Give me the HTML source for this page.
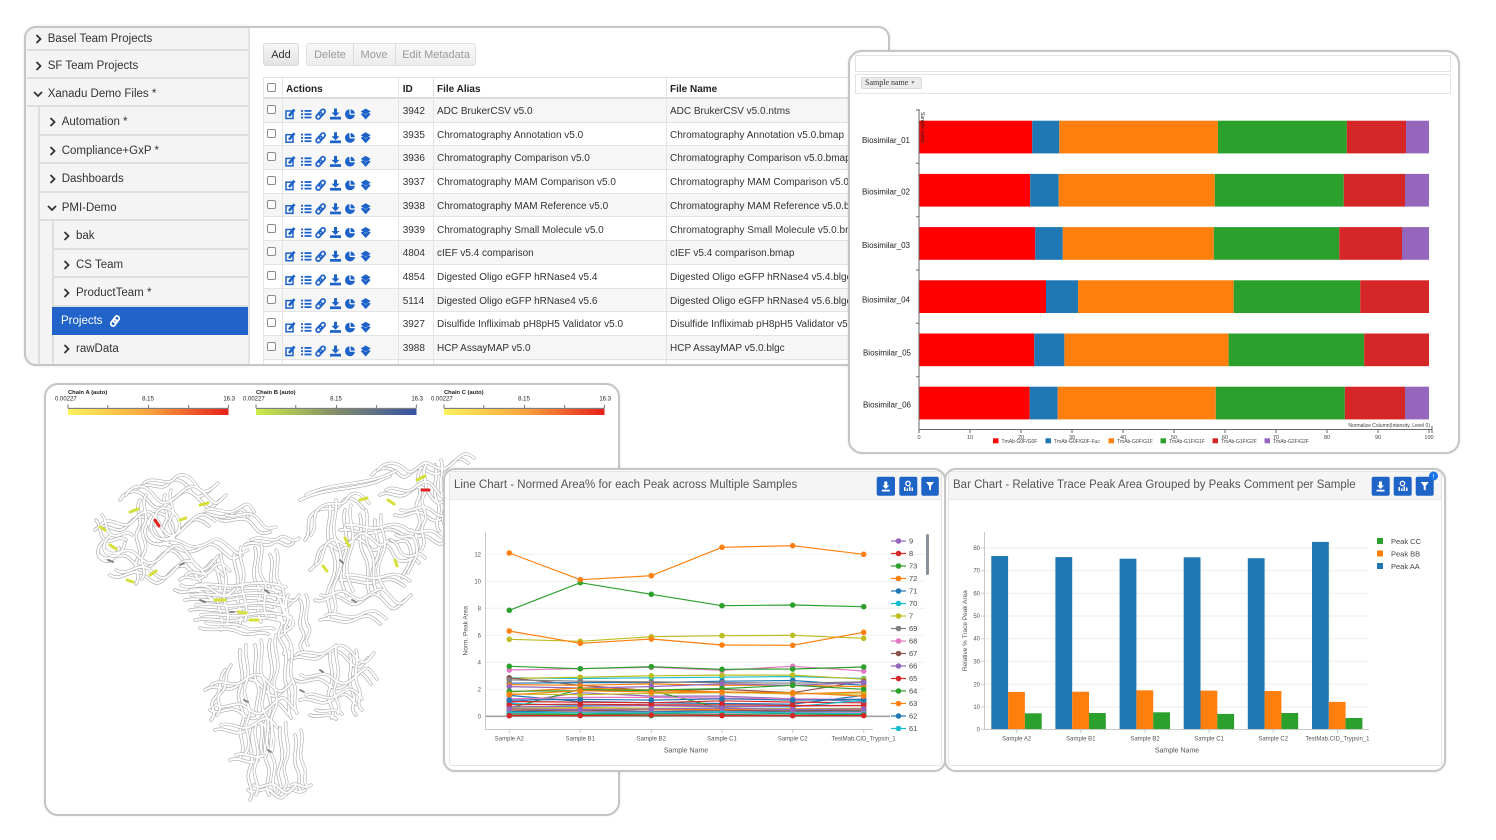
<!DOCTYPE html>
<html><head><meta charset="utf-8">
<style>
*{margin:0;padding:0;box-sizing:border-box}
html,body{width:1496px;height:840px;overflow:hidden;background:#fff;font-family:"Liberation Sans",sans-serif}
.wrap{position:absolute;left:0;top:0;width:1496px;height:840px}
.layer{position:absolute;left:0;top:0;width:1496px;height:840px;background:#fff}
.bord{position:absolute;border:2px solid #c3c6c3;box-shadow:0 0 2px rgba(0,0,0,.12)}
.full{position:absolute;left:0;top:0;width:1496px;height:840px;overflow:visible}
.row{position:absolute;background:#f4f4f4;border-bottom:2px solid #dedede}
.row span{position:absolute;top:calc(50% + 1.5px);transform:translateY(-50%);font-size:11.5px;color:#333;white-space:nowrap}
.row svg{position:absolute;top:calc(50% + 1.5px);transform:translateY(-50%)}
.l1{border-left:2px solid #dedede}
.tr{position:absolute;left:263px;width:640px;height:23.7px;border-bottom:1px solid #e3e3e3;font-size:10px;color:#333}
.tr b{position:absolute;font-weight:normal;top:2px;line-height:22px;white-space:nowrap}
.th b{font-weight:bold;color:#222}
.id{left:139.7px}.al{left:174px}.fn{left:407px}.ac{left:23px}
.cb{position:absolute;left:4px;top:6px;width:9px;height:9px;border:1px solid #8a8a8a;border-radius:2px;background:#fff}
.vl{position:absolute;top:77px;width:1px;height:290px;background:#e4e4e4}
.btn{position:absolute;top:43px;height:23px;font-size:11px;line-height:19px;padding-top:2px;text-align:center;white-space:nowrap}
.card{position:absolute;border:1px solid #e4e4e4;border-radius:3px;background:#fff}
.hdr{position:absolute;left:0;top:0;right:0;height:28px;background:#f5f5f5;border-bottom:1px solid #e8e8e8}
.ttl{position:absolute;font-size:11.5px;color:#555;white-space:nowrap;line-height:14px}
</style></head><body>

<!-- ============ PANEL 1 : file browser ============ -->
<div class="wrap" style="z-index:1">
<div class="layer" style="clip-path:inset(26px 606px 474px 24px round 12px)">
  <div style="position:absolute;left:24px;top:26px;width:225px;height:340px;background:#f4f4f4"></div>
  <div style="position:absolute;left:248px;top:26px;width:2px;height:340px;background:#e2e2e2"></div>

  <div class="row" style="left:27px;top:26px;width:221px;height:25px"><svg width="7" height="10" style="left:8px"><polyline points="1.5,1 5.5,5 1.5,9" fill="none" stroke="#333" stroke-width="1.8"/></svg><span style="left:20.7px">Basel Team Projects</span></div>
  <div class="row" style="left:27px;top:51px;width:221px;height:28px"><svg width="7" height="10" style="left:8px"><polyline points="1.5,1 5.5,5 1.5,9" fill="none" stroke="#333" stroke-width="1.8"/></svg><span style="left:20.7px">SF Team Projects</span></div>
  <div class="row" style="left:27px;top:79px;width:221px;height:28px"><svg width="10" height="7" style="left:6px"><polyline points="1,1.5 5,5.5 9,1.5" fill="none" stroke="#333" stroke-width="1.8"/></svg><span style="left:20.7px">Xanadu Demo Files *</span></div>
  <div class="row l1" style="left:38px;top:107px;width:210px;height:29px"><svg width="7" height="10" style="left:9.3px"><polyline points="1.5,1 5.5,5 1.5,9" fill="none" stroke="#333" stroke-width="1.8"/></svg><span style="left:21.7px">Automation *</span></div>
  <div class="row l1" style="left:38px;top:136px;width:210px;height:28px"><svg width="7" height="10" style="left:9.3px"><polyline points="1.5,1 5.5,5 1.5,9" fill="none" stroke="#333" stroke-width="1.8"/></svg><span style="left:21.7px">Compliance+GxP *</span></div>
  <div class="row l1" style="left:38px;top:164px;width:210px;height:29px"><svg width="7" height="10" style="left:9.3px"><polyline points="1.5,1 5.5,5 1.5,9" fill="none" stroke="#333" stroke-width="1.8"/></svg><span style="left:21.7px">Dashboards</span></div>
  <div class="row l1" style="left:38px;top:193px;width:210px;height:28px"><svg width="10" height="7" style="left:6.7px"><polyline points="1,1.5 5,5.5 9,1.5" fill="none" stroke="#333" stroke-width="1.8"/></svg><span style="left:21.7px">PMI-Demo</span></div>
  <div style="position:absolute;left:38px;top:221px;width:14px;height:145px;border-left:2px solid #dedede;background:#f4f4f4"></div>
  <div class="row l1" style="left:52px;top:221px;width:196px;height:29px"><svg width="7" height="10" style="left:9.3px"><polyline points="1.5,1 5.5,5 1.5,9" fill="none" stroke="#333" stroke-width="1.8"/></svg><span style="left:22px">bak</span></div>
  <div class="row l1" style="left:52px;top:250px;width:196px;height:28px"><svg width="7" height="10" style="left:9.3px"><polyline points="1.5,1 5.5,5 1.5,9" fill="none" stroke="#333" stroke-width="1.8"/></svg><span style="left:22px">CS Team</span></div>
  <div class="row l1" style="left:52px;top:278px;width:196px;height:29px"><svg width="7" height="10" style="left:9.3px"><polyline points="1.5,1 5.5,5 1.5,9" fill="none" stroke="#333" stroke-width="1.8"/></svg><span style="left:22px">ProductTeam *</span></div>
  <div class="row" style="left:52px;top:307px;width:196px;height:28px;background:#2163c8;border-bottom:none"><span style="left:9px;color:#fff;top:50%">Projects</span><svg width="12" height="12" style="left:57px;top:50%"><g fill="none" stroke="#fff" stroke-width="1.8"><rect x="5" y="0.8" width="4.5" height="7" rx="2.2" transform="rotate(35 7.2 4.3)"/><rect x="2.5" y="4.2" width="4.5" height="7" rx="2.2" transform="rotate(35 4.7 7.7)"/></g></svg></div>
  <div class="row l1" style="left:52px;top:335px;width:196px;height:31px"><svg width="7" height="10" style="left:9.3px;top:calc(50% - 0.5px)"><polyline points="1.5,1 5.5,5 1.5,9" fill="none" stroke="#333" stroke-width="1.8"/></svg><span style="left:22px;top:calc(50% - 0.5px)">rawData</span></div>

  <!-- buttons -->
  <div class="btn" style="left:263px;width:36px;background:linear-gradient(#f6f6f6,#e3e3e3);border:1px solid #d9d9d9;border-radius:3px;color:#333">Add</div>
  <div class="btn" style="left:306px;width:170px;background:linear-gradient(#f8f8f8,#ececec);border:1px solid #e0e0e0;border-radius:3px;color:#9a9a9a">
    <span style="position:absolute;left:0;width:46px">Delete</span>
    <span style="position:absolute;left:46px;top:0;width:1px;height:21px;background:#dddddd"></span>
    <span style="position:absolute;left:46px;width:42px">Move</span>
    <span style="position:absolute;left:88px;top:0;width:1px;height:21px;background:#dddddd"></span>
    <span style="position:absolute;left:88px;width:82px">Edit Metadata</span>
  </div>

  <!-- table header -->
  <div class="tr th" style="top:77px;height:22px;border-top:1px solid #e3e3e3;border-bottom:2px solid #dcdcdc"><i class="cb" style="top:5px"></i><b class="ac" style="line-height:19px">Actions</b><b class="id" style="line-height:19px">ID</b><b class="al" style="line-height:19px">File Alias</b><b class="fn" style="line-height:19px">File Name</b></div>

  <div class="tr" style="top:99px;background:#f6f6f6"><i class="cb"></i><b class="id">3942</b><b class="al">ADC BrukerCSV v5.0</b><b class="fn">ADC BrukerCSV v5.0.ntms</b></div>
  <div class="tr" style="top:122.7px"><i class="cb"></i><b class="id">3935</b><b class="al">Chromatography Annotation v5.0</b><b class="fn">Chromatography Annotation v5.0.bmap</b></div>
  <div class="tr" style="top:146.4px;background:#f6f6f6"><i class="cb"></i><b class="id">3936</b><b class="al">Chromatography Comparison v5.0</b><b class="fn">Chromatography Comparison v5.0.bmap</b></div>
  <div class="tr" style="top:170.1px"><i class="cb"></i><b class="id">3937</b><b class="al">Chromatography MAM Comparison v5.0</b><b class="fn">Chromatography MAM Comparison v5.0.bmap</b></div>
  <div class="tr" style="top:193.8px;background:#f6f6f6"><i class="cb"></i><b class="id">3938</b><b class="al">Chromatography MAM Reference v5.0</b><b class="fn">Chromatography MAM Reference v5.0.bmap</b></div>
  <div class="tr" style="top:217.5px"><i class="cb"></i><b class="id">3939</b><b class="al">Chromatography Small Molecule v5.0</b><b class="fn">Chromatography Small Molecule v5.0.bmap</b></div>
  <div class="tr" style="top:241.2px;background:#f6f6f6"><i class="cb"></i><b class="id">4804</b><b class="al">cIEF v5.4 comparison</b><b class="fn">cIEF v5.4 comparison.bmap</b></div>
  <div class="tr" style="top:264.9px"><i class="cb"></i><b class="id">4854</b><b class="al">Digested Oligo eGFP hRNase4 v5.4</b><b class="fn">Digested Oligo eGFP hRNase4 v5.4.blgc</b></div>
  <div class="tr" style="top:288.6px;background:#f6f6f6"><i class="cb"></i><b class="id">5114</b><b class="al">Digested Oligo eGFP hRNase4 v5.6</b><b class="fn">Digested Oligo eGFP hRNase4 v5.6.blgc</b></div>
  <div class="tr" style="top:312.3px"><i class="cb"></i><b class="id">3927</b><b class="al">Disulfide Infliximab pH8pH5 Validator v5.0</b><b class="fn">Disulfide Infliximab pH8pH5 Validator v5.0.bmap</b></div>
  <div class="tr" style="top:336px;background:#f6f6f6"><i class="cb"></i><b class="id">3988</b><b class="al">HCP AssayMAP v5.0</b><b class="fn">HCP AssayMAP v5.0.blgc</b></div>
  <div class="tr" style="top:359.7px"></div>

  <div class="vl" style="left:282px"></div>
  <div class="vl" style="left:398px"></div>
  <div class="vl" style="left:433px"></div>
  <div class="vl" style="left:666px"></div>
  <div style="position:absolute;left:263px;top:77px;width:1px;height:290px;background:#e4e4e4"></div>

  <svg class="full" width="1496" height="840">
    <defs>
      <g id="acts" fill="#1c62c8">
        <rect x="1" y="2.5" width="7" height="7.5" fill="none" stroke="#1c62c8" stroke-width="1.5"/>
        <line x1="4" y1="7.5" x2="9.5" y2="1" stroke="#1c62c8" stroke-width="2.6"/>
        <rect x="16" y="1.5" width="2" height="1.8"/><rect x="16" y="4.8" width="2" height="1.8"/><rect x="16" y="8.1" width="2" height="1.8"/>
        <rect x="19.5" y="1.5" width="7" height="1.8"/><rect x="19.5" y="4.8" width="7" height="1.8"/><rect x="19.5" y="8.1" width="7" height="1.8"/>
        <g fill="none" stroke="#1c62c8" stroke-width="1.7"><rect x="35" y="0.5" width="4.2" height="7" rx="2.1" transform="rotate(40 37.1 4)"/><rect x="32" y="3.8" width="4.2" height="7" rx="2.1" transform="rotate(40 34.1 7.3)"/></g>
        <polygon points="49,0 52,0 52,4 54.5,4 50.5,8 46.5,4 49,4"/><rect x="45" y="8.3" width="11" height="2.7"/>
        <circle cx="65" cy="5.7" r="5"/><path d="M65 5.7V0.4M65 5.7H70.5" stroke="#fff" stroke-width="1.2"/>
        <polygon points="80.7,0 85.7,3 80.7,6 75.7,3"/><polygon points="75.7,5.5 78,4.4 80.7,6.5 83.4,4.4 85.7,5.5 80.7,11"/>
      </g>
    </defs>
    <use href="#acts" transform="translate(285,108.5)"/>
    <use href="#acts" transform="translate(285,132.2)"/>
    <use href="#acts" transform="translate(285,155.9)"/>
    <use href="#acts" transform="translate(285,179.6)"/>
    <use href="#acts" transform="translate(285,203.3)"/>
    <use href="#acts" transform="translate(285,227)"/>
    <use href="#acts" transform="translate(285,250.7)"/>
    <use href="#acts" transform="translate(285,274.4)"/>
    <use href="#acts" transform="translate(285,298.1)"/>
    <use href="#acts" transform="translate(285,321.8)"/>
    <use href="#acts" transform="translate(285,345.5)"/>
  </svg>
</div>
<div class="bord" style="left:24px;top:26px;width:866px;height:340px;border-radius:12px"></div>
</div>

<!-- ============ PANEL 2 : stacked bar ============ -->
<div class="wrap" style="z-index:2">
<div class="layer" style="clip-path:inset(50px 36px 386px 848px round 14px)">
  <div style="position:absolute;left:855px;top:55px;width:596px;height:17px;border:1px solid #e4e4e4"></div>
  <div style="position:absolute;left:855px;top:74px;width:596px;height:20px;border:1px solid #e4e4e4"></div>
  <div style="position:absolute;left:861px;top:77px;width:61px;height:12px;background:#ececec;border:1px solid #dadada;border-radius:2px;font-family:'Liberation Serif',serif;font-size:8px;line-height:10px;color:#333;padding-left:3px;white-space:nowrap">Sample name <span style="font-size:5px;color:#777;vertical-align:1px">&#9660;</span></div>
  <svg class="full" width="1496" height="840" font-family="Liberation Sans, sans-serif">
    <g>
      <rect x="919" y="120.7" width="113.2" height="32.7" fill="#ff0000"/><rect x="1032.2" y="120.7" width="27.1" height="32.7" fill="#1f77b4"/><rect x="1059.3" y="120.7" width="158.6" height="32.7" fill="#ff7f0e"/><rect x="1217.9" y="120.7" width="129" height="32.7" fill="#2ca02c"/><rect x="1346.9" y="120.7" width="59.1" height="32.7" fill="#d62728"/><rect x="1406" y="120.7" width="23" height="32.7" fill="#9467bd"/>
      <rect x="919" y="173.9" width="111.2" height="32.7" fill="#ff0000"/><rect x="1030.2" y="173.9" width="28.5" height="32.7" fill="#1f77b4"/><rect x="1058.7" y="173.9" width="156.1" height="32.7" fill="#ff7f0e"/><rect x="1214.8" y="173.9" width="129" height="32.7" fill="#2ca02c"/><rect x="1343.8" y="173.9" width="61.2" height="32.7" fill="#d62728"/><rect x="1405" y="173.9" width="24" height="32.7" fill="#9467bd"/>
      <rect x="919" y="227.1" width="116.3" height="32.7" fill="#ff0000"/><rect x="1035.3" y="227.1" width="27.5" height="32.7" fill="#1f77b4"/><rect x="1062.8" y="227.1" width="151" height="32.7" fill="#ff7f0e"/><rect x="1213.8" y="227.1" width="125.4" height="32.7" fill="#2ca02c"/><rect x="1339.2" y="227.1" width="62.8" height="32.7" fill="#d62728"/><rect x="1402" y="227.1" width="27" height="32.7" fill="#9467bd"/>
      <rect x="919" y="280.3" width="127" height="32.7" fill="#ff0000"/><rect x="1046" y="280.3" width="32.1" height="32.7" fill="#1f77b4"/><rect x="1078.1" y="280.3" width="155.6" height="32.7" fill="#ff7f0e"/><rect x="1233.7" y="280.3" width="126.5" height="32.7" fill="#2ca02c"/><rect x="1360.2" y="280.3" width="68.8" height="32.7" fill="#d62728"/>
      <rect x="919" y="333.5" width="115.3" height="32.7" fill="#ff0000"/><rect x="1034.3" y="333.5" width="30.1" height="32.7" fill="#1f77b4"/><rect x="1064.4" y="333.5" width="164.2" height="32.7" fill="#ff7f0e"/><rect x="1228.6" y="333.5" width="135.6" height="32.7" fill="#2ca02c"/><rect x="1364.2" y="333.5" width="64.8" height="32.7" fill="#d62728"/>
      <rect x="919" y="386.7" width="110.7" height="32.7" fill="#ff0000"/><rect x="1029.7" y="386.7" width="28" height="32.7" fill="#1f77b4"/><rect x="1057.7" y="386.7" width="158.1" height="32.7" fill="#ff7f0e"/><rect x="1215.8" y="386.7" width="129.1" height="32.7" fill="#2ca02c"/><rect x="1344.9" y="386.7" width="60.1" height="32.7" fill="#d62728"/><rect x="1405" y="386.7" width="24" height="32.7" fill="#9467bd"/>
    </g>
    <line x1="919" y1="109" x2="919" y2="430" stroke="#666" stroke-width="1"/>
    <path d="M916 110H919M916 163.3H919M916 216.7H919M916 270H919M916 323.3H919M916 376.7H919" stroke="#666" stroke-width="1"/>
    <line x1="919" y1="429.5" x2="1432" y2="429.5" stroke="#666" stroke-width="1"/>
    <path d="M919 429.5V433M970 429.5V433M1021 429.5V433M1072 429.5V433M1123 429.5V433M1174 429.5V433M1225 429.5V433M1276 429.5V433M1327 429.5V433M1378 429.5V433M1429 429.5V433M1432 426V433" stroke="#666" stroke-width="1"/>
    <g font-size="8" fill="#222" text-anchor="end">
      <text x="910" y="143">Biosimilar_01</text>
      <text x="910" y="194.3">Biosimilar_02</text>
      <text x="910" y="248">Biosimilar_03</text>
      <text x="910" y="302.3">Biosimilar_04</text>
      <text x="911" y="355.3">Biosimilar_05</text>
      <text x="911" y="407.3">Biosimilar_06</text>
    </g>
    <text transform="translate(921,112) rotate(90)" font-size="5" fill="#222">Sample name</text>
    <g font-size="5.5" fill="#444" text-anchor="middle">
      <text x="919" y="439">0</text><text x="970" y="439">10</text><text x="1021" y="439">20</text><text x="1072" y="439">30</text><text x="1123" y="439">40</text><text x="1174" y="439">50</text><text x="1225" y="439">60</text><text x="1276" y="439">70</text><text x="1327" y="439">80</text><text x="1378" y="439">90</text><text x="1429" y="439">100</text>
    </g>
    <text x="1430" y="427" font-size="5" fill="#444" text-anchor="end">Normalize Column(Intensity, Level 0)</text>
    <g font-size="5" fill="#444">
      <rect x="993" y="438.3" width="5.5" height="5" fill="#ff0000"/><text x="1001.5" y="443">TmAb-G0F/G0F</text>
      <rect x="1045.5" y="438.3" width="5.5" height="5" fill="#1f77b4"/><text x="1054" y="443">TmAb-G0F/G0F-Fuc</text>
      <rect x="1108.5" y="438.3" width="5.5" height="5" fill="#ff7f0e"/><text x="1117" y="443">TmAb-G0F/G1F</text>
      <rect x="1160.5" y="438.3" width="5.5" height="5" fill="#2ca02c"/><text x="1169" y="443">TmAb-G1F/G1F</text>
      <rect x="1212.5" y="438.3" width="5.5" height="5" fill="#d62728"/><text x="1221" y="443">TmAb-G1F/G2F</text>
      <rect x="1264.5" y="438.3" width="5.5" height="5" fill="#9467bd"/><text x="1273" y="443">TmAb-G2F/G2F</text>
    </g>
  </svg>
</div>
<div class="bord" style="left:848px;top:50px;width:612px;height:404px;border-radius:14px"></div>
</div>

<!-- ============ PANEL 3 : protein ============ -->
<div class="wrap" style="z-index:1">
<div class="layer" style="clip-path:inset(383px 876px 24px 44px round 14px)">
  <svg class="full" width="1496" height="840" font-family="Liberation Sans, sans-serif">
    <defs>
      <linearGradient id="gA" x1="0" x2="1" y1="0" y2="0"><stop offset="0" stop-color="#fff35e"/><stop offset="0.5" stop-color="#f7a53c"/><stop offset="1" stop-color="#e6201c"/></linearGradient>
      <linearGradient id="gB" x1="0" x2="1" y1="0" y2="0"><stop offset="0" stop-color="#cdeb4a"/><stop offset="0.5" stop-color="#838c68"/><stop offset="1" stop-color="#3553a6"/></linearGradient>
      <g id="rib">
        <path d="M95 530c10-12 22 8 32-4s18-14 26 2 14 16 26 4 16-18 30-6"/>
        <path d="M100 555c8 10 20-6 30 4s16 14 28 0 18-10 28 6 14 10 26-4"/>
        <path d="M110 575c12 8 22-10 34 0s14 12 26-2 20-6 30 8"/>
        <path d="M120 500c6-10 18-12 26-2s12 14 24 4 16-16 28-4 10 14 22 2"/>
        <path d="M138 488c10-8 24 4 30-4s16-4 22 6 12 8 22-2"/>
        <path d="M150 520c-10 10-4 26 10 24s18-16 8-26-22-4-18 12"/>
        <path d="M200 515c10-4 20 6 30 0s12-10 18 2"/>
        <path d="M160 545c14-4 20 10 34 6s14-12 26-2 10 12 22 6"/>
        <path d="M105 540c-8 6-10 16-2 20s14-4 16-12"/>
        <path d="M175 590c10 6 20-4 30 4s14 10 24 0"/>
        <path d="M96 520c6 6 2 16 10 20s12-6 20 0"/>
        <path d="M140 500c-6 10 4 20-2 30s6 18 0 28 4 16-2 26"/>
        <path d="M165 495c-4 10 6 18 0 28s6 12 2 22"/>
        <path d="M185 600c15-3 30 3 45 0s30-3 45 2 12 6 18-2"/>
        <path d="M190 610c15-3 30 3 45 0s30-3 45 2"/>
        <path d="M195 620c15-3 30 3 45 0s30-3 45 2"/>
        <path d="M190 590c15-3 30 3 45 0s30-3 45 2"/>
        <path d="M200 628c12 4 26-2 38 4s20-2 30 2"/>
        <path d="M215 560c0 10 8 20 4 34s6 20 2 36"/>
        <path d="M235 552c-4 12 6 22 2 34s8 24 2 40"/>
        <path d="M255 548c4 12-6 24 2 36s-4 22 4 38"/>
        <path d="M270 555c6 10-4 24 4 34s0 20 6 30"/>
        <path d="M180 580c8-8 16 4 24-4s10-12 20 0"/>
        <path d="M245 545c10-6 20 4 28-2s12 8 20 0"/>
        <path d="M270 600c8 6 4 18 12 22s6 10-2 14"/>
        <path d="M220 520c10 4 22-6 30 2s8 14 20 10"/>
        <path d="M305 540c8-10-2-20 10-28s20 2 26-8 14-6 22 4"/>
        <path d="M310 570c10-6 4-18 14-24s12 10 20 2 10-14 20-6 8 12 18 4"/>
        <path d="M315 600c10 4 16-8 26-2s12 10 22 2 14-8 22 2 10 8 20-2"/>
        <path d="M320 620c12-4 22 6 34 0s16-6 26 4"/>
        <path d="M330 505c2 14-6 26 0 40s8 24 0 40 4 20-2 34"/>
        <path d="M345 510c-4 14 6 28 0 44s-6 26 2 42"/>
        <path d="M360 515c4 14-4 26 4 40s0 26 6 40"/>
        <path d="M375 520c-2 14 8 24 2 38s-8 22 2 36"/>
        <path d="M390 540c10 6 16-6 20 8s-4 20-8 30"/>
        <path d="M340 530c12-2 24 6 36 2s18-4 28 4"/>
        <path d="M340 580c12-2 24 6 36 2s18-4 28 4"/>
        <path d="M300 500c20-10 40-10 60-14s20-6 30-10"/>
        <path d="M372 475c8-10 20-8 28 0s14-12 24-6 14 8 24-2 12-10 20-4"/>
        <path d="M380 495c10-6 18 6 28-2s14-10 22 2 12 10 24-4"/>
        <path d="M395 515c12 4 20-8 30 0s12 8 24-2"/>
        <path d="M405 535c8 6 16-4 26 4s10 6 18-2"/>
        <path d="M420 470c-6 10 4 20-2 30s6 18 0 28 4 16-2 26"/>
        <path d="M435 465c4 12-4 24 2 36s-4 20 2 30"/>
        <path d="M385 545c10 4 6 14 16 16s10-8 18 2"/>
        <path d="M282 600c-6 10 4 20-2 30s8 14 4 24"/>
        <path d="M300 600c6 10-4 20 2 30s-6 12 0 20"/>
        <path d="M205 690c10-8 22 4 32-4s16-10 26 2 14 10 24-2"/>
        <path d="M210 710c10 6 20-6 30 2s14 10 26-2 12-8 22 4"/>
        <path d="M215 730c12-4 20 8 32 0s14-10 24 2"/>
        <path d="M240 650c-2 14 6 24 0 38s8 24 2 36 6 20-2 34"/>
        <path d="M255 645c4 12-4 26 2 38s-6 24 2 36-2 22 4 36"/>
        <path d="M270 640c-4 14 6 26 0 40s6 22-2 36 4 22-2 40"/>
        <path d="M285 650c4 12-4 24 2 36s-2 20 4 32"/>
        <path d="M225 670c-8 10-2 20-10 28s4 14-4 22"/>
        <path d="M230 760c10-4 18 6 28 0"/>
        <path d="M290 660c10-8 22 4 32-4s16-8 26 4 12 8 20-2"/>
        <path d="M295 680c10 6 20-6 30 2s14 10 26-2 12-6 20 4"/>
        <path d="M300 700c12-4 20 8 32 0s14-8 24 4"/>
        <path d="M330 650c-2 14 6 24 0 38s6 18 2 30"/>
        <path d="M350 655c4 12-4 24 2 36s-4 16 4 24"/>
        <path d="M310 715c10 4 18-4 26 4"/>
        <path d="M250 730c-4 14 6 24 0 38s6 20 0 32"/>
        <path d="M265 725c4 14-4 26 2 38s-4 20 2 32"/>
        <path d="M280 728c-2 14 6 24 0 38s6 18-2 28"/>
        <path d="M295 735c4 12-4 22 2 34s-2 14 4 22"/>
        <path d="M248 790c8 6 16-6 24 2s10 8 18-2"/>
        <path d="M285 790c8-4 12 6 20 0"/>
      </g>
    </defs>
    <g fill="none" stroke-linecap="round">
      <use href="#rib" stroke="#aaaaaa" stroke-width="3.4"/>
      <use href="#rib" stroke="#ffffff" stroke-width="2.1"/>
      <g transform="translate(6,-5)">
        <use href="#rib" stroke="#b0b0b0" stroke-width="3.2"/>
        <use href="#rib" stroke="#ffffff" stroke-width="2"/>
      </g>
      <path d="M108 560l5 2M200 600l5 2M230 612l4 0M265 590l4 3M340 560l3 3M352 600l4 2M244 700l4 2M300 690l4 2M268 750l3 2M320 670l3 2M180 565l4-2" stroke="#7a7a7a" stroke-width="1.8"/>
      <path d="M130 512l8-3M110 545l6 4M180 520l6-2M215 600l10 0M250 620l8 0M345 538l4 8M395 560l2 6M417 480l8-4M388 500l6 4M150 575l6-4M200 505l8-2M127 580l6 2M100 527l5 3M238 612l8 1M360 500l7-2M323 566l4 5" stroke="#d6e03a" stroke-width="3"/>
      <path d="M155 520l4 6M422 490l7 0" stroke="#e32020" stroke-width="3"/>
    </g>
    <!-- colorbars -->
    <g font-size="6" fill="#222">
      <text x="68" y="394" font-weight="bold" font-size="5.8">Chain A (auto)</text>
      <text x="55" y="400.5">0.00227</text><text x="148" y="400.5" text-anchor="middle">8.15</text><text x="235" y="400.5" text-anchor="end">16.3</text>
      <text x="256" y="394" font-weight="bold" font-size="5.8">Chain B (auto)</text>
      <text x="243" y="400.5">0.00227</text><text x="336" y="400.5" text-anchor="middle">8.15</text><text x="423" y="400.5" text-anchor="end">16.3</text>
      <text x="444" y="394" font-weight="bold" font-size="5.8">Chain C (auto)</text>
      <text x="431" y="400.5">0.00227</text><text x="524" y="400.5" text-anchor="middle">8.15</text><text x="611" y="400.5" text-anchor="end">16.3</text>
    </g>
    <g stroke="#555" stroke-width="0.8" fill="none">
      <path d="M68 408.3H228.5M68 404.5V408.3M107.8 405V408.3M148.4 405V408.3M188.7 405V408.3M228.3 404.5V408.3"/>
      <path d="M256 408.3H416.5M256 404.5V408.3M295.8 405V408.3M336.4 405V408.3M376.7 405V408.3M416.3 404.5V408.3"/>
      <path d="M444 408.3H604.5M444 404.5V408.3M483.8 405V408.3M524.4 405V408.3M564.7 405V408.3M604.3 404.5V408.3"/>
    </g>
    <rect x="68" y="409" width="160.5" height="6" fill="url(#gA)"/>
    <rect x="256" y="409" width="160.5" height="6" fill="url(#gB)"/>
    <rect x="444" y="409" width="160.5" height="6" fill="url(#gA)"/>
  </svg>
</div>
<div class="bord" style="left:44px;top:383px;width:576px;height:433px;border-radius:14px"></div>
</div>

<!-- ============ PANEL 5 : bar chart ============ -->
<div class="wrap" style="z-index:3">
<div class="layer" style="clip-path:inset(468px 50px 68px 944px round 12px)">
  <div class="card" style="left:948px;top:471px;width:494px;height:295px"><div class="hdr"></div></div>
  <div class="ttl" style="left:953px;top:478px">Bar Chart - Relative Trace Peak Area Grouped by Peaks Comment per Sample</div>
  <svg class="full" width="1496" height="840" font-family="Liberation Sans, sans-serif">
    <g fill="#1e63c6">
      <rect x="1371.7" y="476.7" width="18" height="19" rx="2"/>
      <rect x="1393.7" y="476.7" width="18" height="19" rx="2"/>
      <rect x="1415.7" y="476.7" width="18" height="19" rx="2"/>
    </g>
    <g fill="#fff">
      <polygon points="1379,481.5 1382,481.5 1382,485.5 1384,485.5 1380.5,489 1377,485.5 1379,485.5"/><rect x="1376.5" y="489.7" width="8" height="1.8"/>
      <circle cx="1402.5" cy="483.5" r="2.2" fill="none" stroke="#fff" stroke-width="1.3"/><rect x="1398.5" y="487" width="1.5" height="4"/><rect x="1401" y="488.5" width="1.5" height="2.5"/><rect x="1403.5" y="486.5" width="1.5" height="4.5"/><rect x="1406" y="487.5" width="1.5" height="3.5"/>
      <polygon points="1420.7,482 1428.7,482 1425.7,486 1425.7,490.5 1423.7,489.5 1423.7,486"/>
    </g>
    <circle cx="1433.5" cy="476" r="4.5" fill="#1a73e8"/><text x="1433.5" y="478.3" font-size="6" fill="#fff" text-anchor="middle">!</text>
    <g stroke="#eeeeee" stroke-width="1">
      <path d="M985 548H1369M985 570.7H1369M985 593.3H1369M985 616H1369M985 638.7H1369M985 661.3H1369M985 684.3H1369M985 707H1369"/>
    </g>
    <g fill="#1f77b4">
      <rect x="991.3" y="556" width="16.8" height="173.3"/><rect x="1055.4" y="557.1" width="16.8" height="172.2"/><rect x="1119.6" y="558.7" width="16.8" height="170.6"/><rect x="1183.7" y="557.3" width="16.8" height="172"/><rect x="1247.8" y="558.2" width="16.8" height="171.1"/><rect x="1312" y="541.9" width="16.8" height="187.4"/>
    </g>
    <g fill="#ff7f0e">
      <rect x="1008.1" y="691.9" width="16.8" height="37.4"/><rect x="1072.2" y="691.7" width="16.8" height="37.6"/><rect x="1136.4" y="690.3" width="16.8" height="39"/><rect x="1200.5" y="690.6" width="16.8" height="38.7"/><rect x="1264.6" y="691" width="16.8" height="38.3"/><rect x="1328.8" y="701.9" width="16.8" height="27.4"/>
    </g>
    <g fill="#2ca02c">
      <rect x="1024.9" y="713.3" width="16.8" height="16"/><rect x="1089" y="713" width="16.8" height="16.3"/><rect x="1153.2" y="712.3" width="16.8" height="17"/><rect x="1217.3" y="713.9" width="16.8" height="15.4"/><rect x="1281.4" y="713" width="16.8" height="16.3"/><rect x="1345.6" y="718" width="16.8" height="11.3"/>
    </g>
    <g stroke="#c8c8c8" stroke-width="1" fill="none">
      <path d="M984.5 531.7V729.8M984.5 729.5H1369"/>
      <path d="M981 548H984.5M981 570.7H984.5M981 593.3H984.5M981 616H984.5M981 638.7H984.5M981 661.3H984.5M981 684.3H984.5M981 707H984.5M981 729.3H984.5"/>
      <path d="M1016.7 729.5V733M1080.8 729.5V733M1145 729.5V733M1209.1 729.5V733M1273.2 729.5V733M1337.4 729.5V733"/>
    </g>
    <g font-size="6" fill="#555" text-anchor="end">
      <text x="980" y="550">80</text><text x="980" y="572.7">70</text><text x="980" y="595.3">60</text><text x="980" y="618">50</text><text x="980" y="640.7">40</text><text x="980" y="663.3">30</text><text x="980" y="686.3">20</text><text x="980" y="709">10</text><text x="980" y="731.3">0</text>
    </g>
    <g font-size="6" fill="#555" text-anchor="middle">
      <text x="1016.7" y="740.5">Sample A2</text><text x="1080.8" y="740.5">Sample B1</text><text x="1145" y="740.5">Sample B2</text><text x="1209.1" y="740.5">Sample C1</text><text x="1273.2" y="740.5">Sample C2</text><text x="1337.4" y="740.5">TestMab.CID_Trypsin_1</text>
    </g>
    <text x="1177" y="752.5" font-size="7" fill="#555" text-anchor="middle">Sample Name</text>
    <text transform="translate(967,630.7) rotate(-90)" font-size="6.5" fill="#555" text-anchor="middle">Relative % Trace Peak Area</text>
    <g font-size="7.5" fill="#444">
      <rect x="1377" y="538" width="6" height="6" fill="#2ca02c"/><text x="1391" y="544">Peak CC</text>
      <rect x="1377" y="550.5" width="6" height="6" fill="#ff7f0e"/><text x="1391" y="556.5">Peak BB</text>
      <rect x="1377" y="563" width="6" height="6" fill="#1f77b4"/><text x="1391" y="569">Peak AA</text>
    </g>
  </svg>
</div>
<div class="bord" style="left:944px;top:468px;width:502px;height:304px;border-radius:12px"></div>
</div>

<!-- ============ PANEL 4 : line chart ============ -->
<div class="wrap" style="z-index:4">
<div class="layer" style="clip-path:inset(468px 550px 68px 443px round 12px)">
  <div class="card" style="left:449px;top:471px;width:493px;height:295px"><div class="hdr"></div></div>
  <div class="ttl" style="left:454px;top:478px">Line Chart - Normed Area% for each Peak across Multiple Samples</div>
  <svg class="full" width="1496" height="840" font-family="Liberation Sans, sans-serif">
    <defs>
      <marker id="mB" markerWidth="7" markerHeight="7" refX="3.5" refY="3.5" markerUnits="userSpaceOnUse"><circle cx="3.5" cy="3.5" r="2.8" fill="#1f77b4"/></marker>
      <marker id="mO" markerWidth="7" markerHeight="7" refX="3.5" refY="3.5" markerUnits="userSpaceOnUse"><circle cx="3.5" cy="3.5" r="2.8" fill="#ff7f0e"/></marker>
      <marker id="mG" markerWidth="7" markerHeight="7" refX="3.5" refY="3.5" markerUnits="userSpaceOnUse"><circle cx="3.5" cy="3.5" r="2.8" fill="#2ca02c"/></marker>
      <marker id="mR" markerWidth="7" markerHeight="7" refX="3.5" refY="3.5" markerUnits="userSpaceOnUse"><circle cx="3.5" cy="3.5" r="2.8" fill="#d62728"/></marker>
      <marker id="mP" markerWidth="7" markerHeight="7" refX="3.5" refY="3.5" markerUnits="userSpaceOnUse"><circle cx="3.5" cy="3.5" r="2.8" fill="#9467bd"/></marker>
      <marker id="mBr" markerWidth="7" markerHeight="7" refX="3.5" refY="3.5" markerUnits="userSpaceOnUse"><circle cx="3.5" cy="3.5" r="2.8" fill="#8c564b"/></marker>
      <marker id="mPk" markerWidth="7" markerHeight="7" refX="3.5" refY="3.5" markerUnits="userSpaceOnUse"><circle cx="3.5" cy="3.5" r="2.8" fill="#e377c2"/></marker>
      <marker id="mGy" markerWidth="7" markerHeight="7" refX="3.5" refY="3.5" markerUnits="userSpaceOnUse"><circle cx="3.5" cy="3.5" r="2.8" fill="#7f7f7f"/></marker>
      <marker id="mOl" markerWidth="7" markerHeight="7" refX="3.5" refY="3.5" markerUnits="userSpaceOnUse"><circle cx="3.5" cy="3.5" r="2.8" fill="#bcbd22"/></marker>
      <marker id="mC" markerWidth="7" markerHeight="7" refX="3.5" refY="3.5" markerUnits="userSpaceOnUse"><circle cx="3.5" cy="3.5" r="2.8" fill="#17becf"/></marker>
      <clipPath id="lgc"><rect x="880" y="530" width="60" height="201"/></clipPath>
      <style>
        .ln polyline{fill:none;stroke-width:1.2}
        .cB{stroke:#1f77b4;marker:url(#mB)} .cO{stroke:#ff7f0e;marker:url(#mO)} .cG{stroke:#2ca02c;marker:url(#mG)}
        .cR{stroke:#d62728;marker:url(#mR)} .cP{stroke:#9467bd;marker:url(#mP)} .cBr{stroke:#8c564b;marker:url(#mBr)}
        .cPk{stroke:#e377c2;marker:url(#mPk)} .cGy{stroke:#7f7f7f;marker:url(#mGy)} .cOl{stroke:#bcbd22;marker:url(#mOl)}
        .cC{stroke:#17becf;marker:url(#mC)}
      </style>
    </defs>
    <g fill="#1e63c6">
      <rect x="876.7" y="476.7" width="18.3" height="19" rx="2"/>
      <rect x="899.3" y="476.7" width="18" height="19" rx="2"/>
      <rect x="921.3" y="476.7" width="17.5" height="19" rx="2"/>
    </g>
    <g fill="#fff">
      <polygon points="884.3,481.5 887.3,481.5 887.3,485.5 889.3,485.5 885.8,489 882.3,485.5 884.3,485.5"/><rect x="881.8" y="489.7" width="8" height="1.8"/>
      <circle cx="908" cy="483.5" r="2.2" fill="none" stroke="#fff" stroke-width="1.3"/><rect x="904" y="487" width="1.5" height="4"/><rect x="906.5" y="488.5" width="1.5" height="2.5"/><rect x="909" y="486.5" width="1.5" height="4.5"/><rect x="911.5" y="487.5" width="1.5" height="3.5"/>
      <polygon points="926,482 934,482 931,486 931,490.5 929,489.5 929,486"/>
    </g>
    <path d="M486 554.3H925M486 581.3H925M486 608.3H925M486 635.3H925M486 662.3H925M486 689.3H925" stroke="#efefef" stroke-width="1"/>
    <line x1="486" y1="716.3" x2="890" y2="716.3" stroke="#a0a0a0" stroke-width="1.6"/>
    <path d="M485.5 531.7V729.8M485.5 729.5H873M509.3 729.5V733M580.3 729.5V733M651.3 729.5V733M722 729.5V733M792.7 729.5V733M863.7 729.5V733" stroke="#c8c8c8" stroke-width="1" fill="none"/>
    <g font-size="6" fill="#555" text-anchor="end">
      <text x="481" y="718.3">0</text><text x="481" y="691.3">2</text><text x="481" y="664.3">4</text><text x="481" y="637.3">6</text><text x="481" y="610.3">8</text><text x="481" y="583.3">10</text><text x="481" y="556.3">12</text>
    </g>
    <g class="ln">
      <polyline class="cC" points="509.3,677.8 580.3,678.5 651.3,677.8 722,677.2 792.7,676.5 863.7,678.5"/>
      <polyline class="cOl" points="509.3,678.5 580.3,677.2 651.3,675.8 722,675.1 792.7,675.1 863.7,679.2"/>
      <polyline class="cBr" points="509.3,677.8 580.3,685.3 651.3,690.7 722,689.3 792.7,692.7 863.7,681.2"/>
      <polyline class="cB" points="509.3,683.2 580.3,682.6 651.3,682.6 722,681.2 792.7,680.5 863.7,685.3"/>
      <polyline class="cO" points="509.3,684.6 580.3,685.3 651.3,683.9 722,685.3 792.7,685.3 863.7,686.6"/>
      <polyline class="cGy" points="509.3,679.9 580.3,681.2 651.3,681.9 722,682.6 792.7,683.2 863.7,681.9"/>
      <polyline class="cP" points="509.3,686.6 580.3,688 651.3,686.6 722,683.9 792.7,685.3 863.7,682.6"/>
      <polyline class="cO" points="509.3,692 580.3,688 651.3,690 722,692 792.7,694 863.7,692"/>
      <polyline class="cG" points="509.3,691.3 580.3,690.7 651.3,690 722,688.6 792.7,685.3 863.7,689.3"/>
      <polyline class="cB" points="509.3,695.4 580.3,701.5 651.3,702.8 722,703.5 792.7,704.2 863.7,695.4"/>
      <polyline class="cP" points="509.3,702.8 580.3,692.7 651.3,696.1 722,696.1 792.7,698.8 863.7,701.5"/>
      <polyline class="cG" points="509.3,708.2 580.3,689.3 651.3,690.7 722,708.2 792.7,709.6 863.7,711.6"/>
      <polyline class="cPk" points="509.3,698.8 580.3,697.4 651.3,697.4 722,698.1 792.7,698.8 863.7,699.4"/>
      <polyline class="cR" points="509.3,701.5 580.3,702.1 651.3,702.8 722,700.8 792.7,702.1 863.7,702.8"/>
      <polyline class="cC" points="509.3,703.5 580.3,705.5 651.3,705.5 722,706.2 792.7,706.9 863.7,700.1"/>
      <polyline class="cOl" points="509.3,708.2 580.3,707.5 651.3,708.2 722,708.2 792.7,708.9 863.7,708.2"/>
      <polyline class="cP" points="509.3,706.9 580.3,706.2 651.3,705.5 722,706.9 792.7,706.2 863.7,705.5"/>
      <polyline class="cGy" points="509.3,714.3 580.3,715 651.3,715 722,714.3 792.7,715 863.7,715"/>
      <polyline class="cB" points="509.3,711.6 580.3,710.9 651.3,711.6 722,710.9 792.7,711.6 863.7,710.9"/>
      <polyline class="cBr" points="509.3,710.2 580.3,710.9 651.3,709.6 722,710.2 792.7,710.9 863.7,710.2"/>
      <polyline class="cG" points="509.3,713.6 580.3,714.3 651.3,713.6 722,712.9 792.7,713.6 863.7,714.3"/>
      <polyline class="cO" points="509.3,709.6 580.3,708.9 651.3,709.6 722,709.6 792.7,708.9 863.7,709.6"/>
      <polyline class="cPk" points="509.3,712.9 580.3,712.3 651.3,712.3 722,712.9 792.7,712.3 863.7,712.3"/>
      <polyline class="cC" points="509.3,712.3 580.3,712.9 651.3,712.9 722,712.3 792.7,712.9 863.7,713.6"/>
      <polyline class="cR" points="509.3,704.8 580.3,704.2 651.3,704.8 722,704.8 792.7,705.5 863.7,705.5"/>
      <polyline class="cB" points="509.3,700.1 580.3,699.4 651.3,700.1 722,698.8 792.7,700.1 863.7,699.4"/>
      <polyline class="cOl" points="509.3,694 580.3,694.7 651.3,693.4 722,692.7 792.7,693.4 863.7,694"/>
      <polyline class="cP" points="509.3,708.9 580.3,709.6 651.3,708.9 722,708.2 792.7,709.6 863.7,708.9"/>
      <polyline class="cO" points="509.3,694.7 580.3,690.7 651.3,692 722,692 792.7,692.7 863.7,696.1"/>
      <polyline class="cG" points="509.3,715.6 580.3,715 651.3,715.6 722,715 792.7,715.6 863.7,715"/>
      <polyline class="cR" points="509.3,715.6 580.3,715.6 651.3,715 722,715.6 792.7,715.6 863.7,715.6"/>
      <polyline class="cPk" points="509.3,670 580.3,668.7 651.3,667.3 722,670.3 792.7,666.3 863.7,671"/>
      <polyline class="cG" points="509.3,666.3 580.3,668.7 651.3,666.7 722,669.3 792.7,669 863.7,667"/>
      <polyline class="cOl" points="509.3,639.3 580.3,641.3 651.3,636.7 722,635.7 792.7,635.3 863.7,638.3"/>
      <polyline class="cO" points="509.3,631 580.3,643.3 651.3,639 722,645 792.7,645.3 863.7,632.3"/>
      <polyline class="cG" points="509.3,610.3 580.3,582.7 651.3,594.3 722,605.7 792.7,605 863.7,606.7"/>
      <polyline class="cO" points="509.3,553 580.3,579.7 651.3,575.7 722,547.3 792.7,545.7 863.7,554.3"/>
    </g>
    <g font-size="6" fill="#555" text-anchor="middle">
      <text x="509.3" y="740.5">Sample A2</text><text x="580.3" y="740.5">Sample B1</text><text x="651.3" y="740.5">Sample B2</text><text x="722" y="740.5">Sample C1</text><text x="792.7" y="740.5">Sample C2</text><text x="863.7" y="740.5">TestMab.CID_Trypsin_1</text>
    </g>
    <text x="686" y="752.5" font-size="7" fill="#555" text-anchor="middle">Sample Name</text>
    <text transform="translate(467.5,630.7) rotate(-90)" font-size="6.5" fill="#555" text-anchor="middle">Norm. Peak Area</text>
    <g clip-path="url(#lgc)" font-size="7.5" fill="#444" stroke-width="1.2">
      <line x1="891" y1="541" x2="906" y2="541" stroke="#9467bd"/><circle cx="898.5" cy="541" r="2.8" fill="#9467bd"/><text x="909" y="543.6">9</text>
      <line x1="891" y1="553.5" x2="906" y2="553.5" stroke="#d62728"/><circle cx="898.5" cy="553.5" r="2.8" fill="#d62728"/><text x="909" y="556.1">8</text>
      <line x1="891" y1="566" x2="906" y2="566" stroke="#2ca02c"/><circle cx="898.5" cy="566" r="2.8" fill="#2ca02c"/><text x="909" y="568.6">73</text>
      <line x1="891" y1="578.5" x2="906" y2="578.5" stroke="#ff7f0e"/><circle cx="898.5" cy="578.5" r="2.8" fill="#ff7f0e"/><text x="909" y="581.1">72</text>
      <line x1="891" y1="591" x2="906" y2="591" stroke="#1f77b4"/><circle cx="898.5" cy="591" r="2.8" fill="#1f77b4"/><text x="909" y="593.6">71</text>
      <line x1="891" y1="603.5" x2="906" y2="603.5" stroke="#17becf"/><circle cx="898.5" cy="603.5" r="2.8" fill="#17becf"/><text x="909" y="606.1">70</text>
      <line x1="891" y1="616" x2="906" y2="616" stroke="#bcbd22"/><circle cx="898.5" cy="616" r="2.8" fill="#bcbd22"/><text x="909" y="618.6">7</text>
      <line x1="891" y1="628.5" x2="906" y2="628.5" stroke="#7f7f7f"/><circle cx="898.5" cy="628.5" r="2.8" fill="#7f7f7f"/><text x="909" y="631.1">69</text>
      <line x1="891" y1="641" x2="906" y2="641" stroke="#e377c2"/><circle cx="898.5" cy="641" r="2.8" fill="#e377c2"/><text x="909" y="643.6">68</text>
      <line x1="891" y1="653.5" x2="906" y2="653.5" stroke="#8c564b"/><circle cx="898.5" cy="653.5" r="2.8" fill="#8c564b"/><text x="909" y="656.1">67</text>
      <line x1="891" y1="666" x2="906" y2="666" stroke="#9467bd"/><circle cx="898.5" cy="666" r="2.8" fill="#9467bd"/><text x="909" y="668.6">66</text>
      <line x1="891" y1="678.5" x2="906" y2="678.5" stroke="#d62728"/><circle cx="898.5" cy="678.5" r="2.8" fill="#d62728"/><text x="909" y="681.1">65</text>
      <line x1="891" y1="691" x2="906" y2="691" stroke="#2ca02c"/><circle cx="898.5" cy="691" r="2.8" fill="#2ca02c"/><text x="909" y="693.6">64</text>
      <line x1="891" y1="703.5" x2="906" y2="703.5" stroke="#ff7f0e"/><circle cx="898.5" cy="703.5" r="2.8" fill="#ff7f0e"/><text x="909" y="706.1">63</text>
      <line x1="891" y1="716" x2="906" y2="716" stroke="#1f77b4"/><circle cx="898.5" cy="716" r="2.8" fill="#1f77b4"/><text x="909" y="718.6">62</text>
      <line x1="891" y1="728.5" x2="906" y2="728.5" stroke="#17becf"/><circle cx="898.5" cy="728.5" r="2.8" fill="#17becf"/><text x="909" y="731.1">61</text>
    </g>
    <rect x="926" y="534" width="3" height="41" rx="1.5" fill="#8a9099"/>
  </svg>
</div>
<div class="bord" style="left:443px;top:468px;width:503px;height:304px;border-radius:12px"></div>
</div>

</body></html>
